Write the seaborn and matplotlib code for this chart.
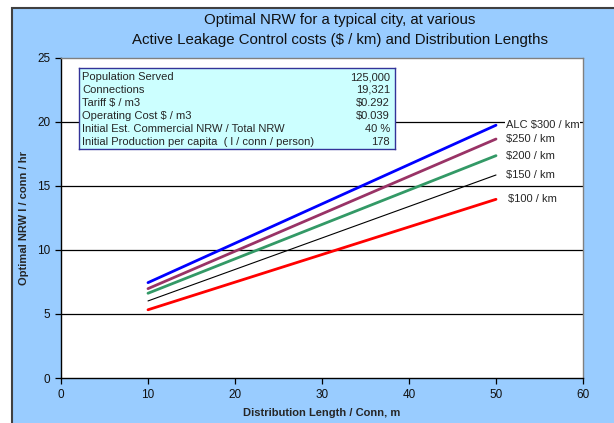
import matplotlib
matplotlib.use("Agg")
import matplotlib.pyplot as plt
import seaborn as sns
import pandas as pd
from matplotlib.patches import Rectangle

# Optimal NRW per ALC cost, at the ends of the distribution-length range
dist_length = [10, 50]
alc_300 = [7.45, 19.75]
alc_250 = [6.98, 18.67]
alc_200 = [6.62, 17.37]
alc_150 = [6.02, 15.86]
alc_100 = [5.33, 13.96]

series_names = ["ALC $300 / km", "$250 / km", "$200 / km", "$150 / km", "$100 / km"]
series_values = [alc_300, alc_250, alc_200, alc_150, alc_100]
series_colors = ["#0000FF", "#993366", "#339966", "#000000", "#FF0000"]
series_widths = [2.0, 2.0, 2.0, 0.8, 2.0]

info_labels = ["Population Served", "Connections", "Tariff $ / m3", "Operating Cost $ / m3",
               "Initial Est. Commercial NRW / Total NRW",
               "Initial Production per capita  ( l / conn / person)"]
info_values = ["125,000", "19,321", "$0.292", "$0.039", "40 %", "178"]

x_ticks = [0, 10, 20, 30, 40, 50, 60]
y_ticks = [0, 5, 10, 15, 20, 25]

rows = []
for name, vals in zip(series_names, series_values):
    for x, y in zip(dist_length, vals):
        rows.append({"length": x, "nrw": y, "series": name})
df = pd.DataFrame(rows)

sns.set_theme(style="white")
plt.rcParams["font.family"] = ["Liberation Sans", "DejaVu Sans"]

fig = plt.figure(figsize=(6.14, 4.23), dpi=100)
fig.patch.set_facecolor("white")
fig.patches.append(Rectangle((12 / 614, -0.01), 1 - 12 / 614 + 0.01, 1 - 8 / 423 + 0.01,
                             transform=fig.transFigure, facecolor="#99CCFF",
                             edgecolor="#404040", linewidth=1.5, zorder=-10))

ax = fig.add_axes([61 / 614, 1 - 378 / 423, (583 - 61) / 614, (378 - 58) / 423])
ax.set_zorder(2)
ax.set_facecolor("white")

for ycoord in [5, 10, 15, 20]:
    ax.axhline(ycoord, color="black", linewidth=0.9, zorder=1)

palette = dict(zip(series_names, series_colors))
sns.lineplot(data=df, x="length", y="nrw", hue="series", palette=palette,
             legend=False, ax=ax, zorder=3)
for line, lw in zip(ax.get_lines()[-len(series_names):], series_widths):
    line.set_linewidth(lw)

label_offsets = [0.35, 0.35, 0.35, 0.35, 0.55]
for name, vals, dx in zip(series_names, series_values, label_offsets):
    ax.text(dist_length[-1] + 0.8 + dx, vals[-1], name, fontsize=8, va="center", ha="left",
            zorder=4, bbox=dict(facecolor="white", edgecolor="none", pad=0.5))

ax.set_xlim(0, 60)
ax.set_ylim(0, 25)
ax.set_xticks(x_ticks)
ax.set_yticks(y_ticks)
ax.tick_params(axis="both", which="major", direction="out", length=4, width=0.9,
               color="black", labelsize=8.5, labelcolor="#111111", bottom=True, left=True)
ax.tick_params(axis="x", pad=4)
for side in ["left", "bottom"]:
    ax.spines[side].set_color("black")
    ax.spines[side].set_linewidth(1.0)
for side in ["top", "right"]:
    ax.spines[side].set_color("#808080")
    ax.spines[side].set_linewidth(1.0)

ax.set_xlabel("Distribution Length / Conn, m", fontsize=8, fontweight="bold", labelpad=5)
ax.set_ylabel("Optimal NRW l / conn / hr", fontsize=8, fontweight="bold", labelpad=6)

fig.text(340 / 614, 1 - 30 / 423, "Optimal NRW for a typical city, at various\n"
         "Active Leakage Control costs ($ / km) and Distribution Lengths",
         ha="center", va="center", fontsize=10.8, linespacing=1.6, color="#111111")

# information panel
box_l, box_r, box_t, box_b = 79, 395, 68, 149
ax_box = fig.add_axes([box_l / 614, 1 - box_b / 423, (box_r - box_l) / 614, (box_b - box_t) / 423])
ax_box.set_zorder(5)
ax_box.set_facecolor("#CCFFFF")
ax_box.set_xticks([])
ax_box.set_yticks([])
for s in ax_box.spines.values():
    s.set_color("#333399")
    s.set_linewidth(1.0)
ax_box.set_xlim(0, 1)
ax_box.set_ylim(0, 1)
for i, (lab, val) in enumerate(zip(info_labels, info_values)):
    yy = 1 - (9.0 + i * 13.0) / (box_b - box_t)
    ax_box.text(3 / (box_r - box_l), yy, lab, fontsize=8, va="center", ha="left")
    ax_box.text(1 - 5 / (box_r - box_l), yy, val, fontsize=8, va="center", ha="right")

fig.savefig("out.png", dpi=100, facecolor=fig.get_facecolor())
